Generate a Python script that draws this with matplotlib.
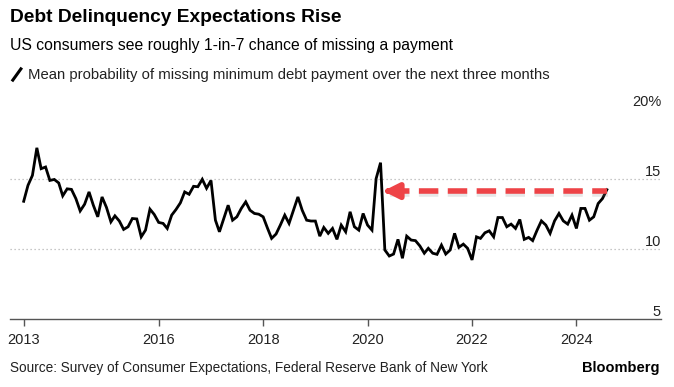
import matplotlib
matplotlib.use("Agg")
import matplotlib.pyplot as plt
import matplotlib.dates as mdates
import matplotlib.patheffects as pe
from matplotlib.lines import Line2D
import numpy as np
import pandas as pd

plt.rcParams["font.family"] = ["Liberation Sans", "DejaVu Sans"]

# Monthly mean probability (%) of missing a minimum debt payment, Jun 2013 - Aug 2024
start_month = "2013-06-01"
values = [
    13.41, 14.55, 15.26, 17.23, 15.74, 15.86, 14.90, 14.97, 14.72, 13.80,
    14.30, 14.26, 13.60, 12.72, 13.20, 14.08, 13.13, 12.30, 13.72, 12.97,
    11.94, 12.37, 12.00, 11.40, 11.59, 12.18, 12.15, 10.87, 11.35, 12.85,
    12.47, 11.90, 11.83, 11.47, 12.42, 12.82, 13.30, 14.08, 13.91, 14.48,
    14.45, 14.98, 14.34, 14.90, 12.06, 11.23, 12.20, 13.13, 12.06, 12.30,
    12.90, 13.37, 12.77, 12.54, 12.49, 12.30, 11.47, 10.76, 11.07, 11.71,
    12.42, 11.83, 12.77, 13.72, 12.77, 12.06, 12.00, 12.00, 10.92, 11.54,
    11.12, 11.47, 10.69, 11.71, 11.23, 12.66, 11.59, 11.35, 12.54, 11.71,
    11.35, 15.03, 16.17, 9.93, 9.50, 9.64, 10.69, 9.34, 10.92, 10.64,
    10.60, 10.22, 9.70, 10.05, 9.70, 9.62, 10.28, 9.64, 9.93, 11.12,
    10.12, 10.35, 10.05, 9.22, 10.87, 10.76, 11.16, 11.30, 10.87, 12.25,
    12.25, 11.59, 11.78, 11.47, 12.11, 10.69, 10.83, 10.60, 11.35, 12.01,
    11.71, 11.12, 12.01, 12.54, 12.01, 11.78, 12.42, 11.47, 12.90, 12.90,
    12.06, 12.30, 13.25, 13.60, 14.24,
]
dates = pd.date_range(start_month, periods=len(values), freq="MS")

tick_dates = pd.to_datetime(["2013-06-01", "2016-01-01", "2018-01-01",
                             "2020-01-01", "2022-01-01", "2024-01-01"])
tick_labels = ["2013", "2016", "2018", "2020", "2022", "2024"]
y_levels = [5, 10, 15, 20]
y_labels = ["5", "10", "15", "20%"]

fig = plt.figure(figsize=(6.74, 3.87), dpi=100)
ax = fig.add_axes([0.0148, 0.1757, 0.966, 0.5425])

ax.plot(dates, values, color="black", lw=2.0, solid_joinstyle="miter", zorder=3)

ax.set_xlim(pd.Timestamp("2013-02-25"), pd.Timestamp("2025-08-15"))
ax.set_ylim(5, 20)

# dotted gridlines
for lvl in [10, 15]:
    ax.axhline(lvl, color="#b5b5b5", lw=0.9, ls=(0, (1, 2.2)), zorder=1)

# y labels sit above gridlines on the right
for lvl, lab in zip(y_levels, y_labels):
    ax.text(1.0, lvl, lab, transform=ax.get_yaxis_transform(), ha="right",
            va="bottom", fontsize=10.5, color="#222222")
ax.set_yticks([])

for s in ["top", "right", "left"]:
    ax.spines[s].set_visible(False)
ax.spines["bottom"].set_color("#555555")
ax.spines["bottom"].set_linewidth(1.0)
ax.set_xticks(tick_dates)
ax.set_xticklabels(tick_labels)
ax.tick_params(axis="x", length=5, width=1, color="#555555", labelsize=10.5,
               labelcolor="#222222", pad=5)

# red dashed arrow: latest value back to the April 2020 spike
peak_idx = int(np.argmax(values[60:])) + 60
arrow_y = values[-1] - 0.1
x_head = mdates.date2num(dates[peak_idx]) + 18
x_tail = mdates.date2num(dates[-1])
shadow = [pe.SimpleLineShadow(offset=(0.5, -2), shadow_color="#888888", alpha=0.2),
          pe.Normal()]
ax.plot([x_head + 45, x_tail], [arrow_y, arrow_y], color="#ee4347", lw=4,
        ls=(0, (3.5, 1.7)), solid_capstyle="butt", zorder=4, path_effects=shadow)
ax.annotate("", xy=(x_head, arrow_y), xytext=(x_head + 50, arrow_y),
            arrowprops=dict(arrowstyle="-|>,head_length=0.9,head_width=0.45",
                            color="#ee4347", lw=4, shrinkA=0, shrinkB=0),
            zorder=4)

# header texts
fig.text(0.0148, 0.955, "Debt Delinquency Expectations Rise", fontsize=13.8,
         fontweight="bold", color="black", va="center", ha="left")
fig.text(0.0148, 0.883, "US consumers see roughly 1-in-7 chance of missing a payment",
         fontsize=11.3, color="black", va="center", ha="left")
fig.add_artist(Line2D([0.019, 0.031], [0.793, 0.822], transform=fig.transFigure,
                      color="black", lw=2.2))
fig.text(0.042, 0.805,
         "Mean probability of missing minimum debt payment over the next three months",
         fontsize=10.7, color="#222222", va="center", ha="left")

# footer
fig.text(0.0148, 0.05,
         "Source: Survey of Consumer Expectations, Federal Reserve Bank of New York",
         fontsize=9.8, color="#222222", va="center", ha="left")
fig.text(0.978, 0.05, "Bloomberg", fontsize=10.5, fontweight="bold",
         color="black", va="center", ha="right")

fig.savefig("out.png", dpi=100)
